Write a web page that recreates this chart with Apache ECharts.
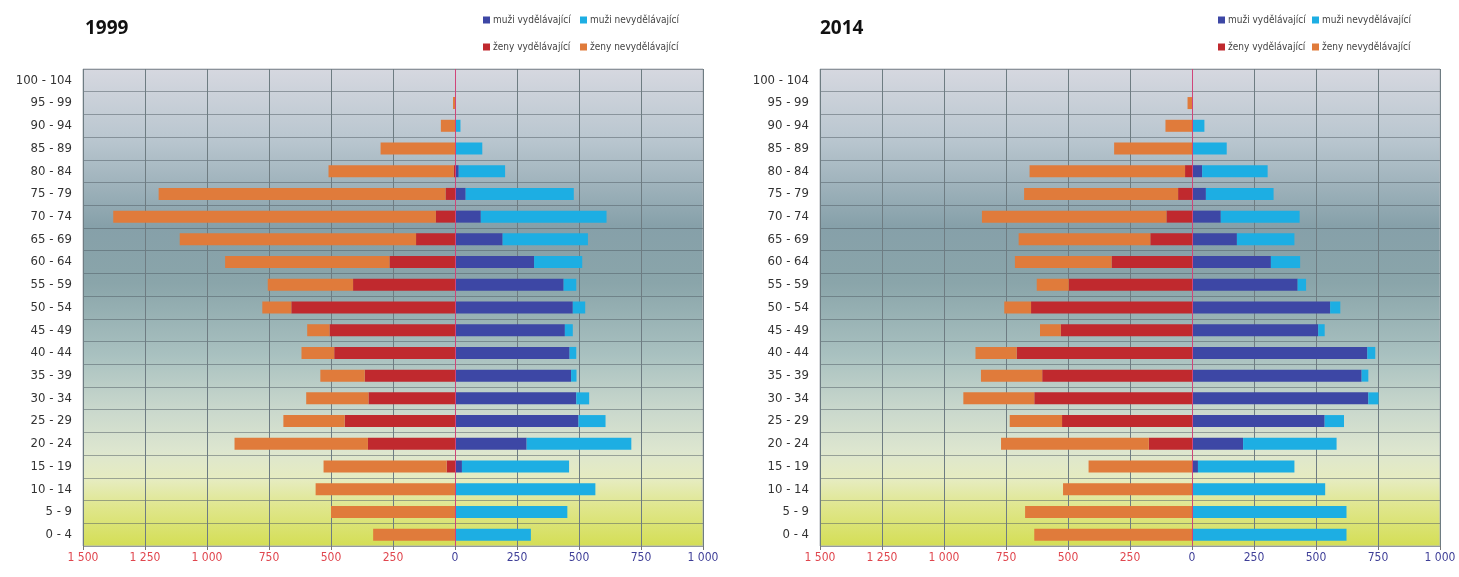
<!DOCTYPE html>
<html>
<head>
<meta charset="utf-8">
<script src="https://cdn.jsdelivr.net/npm/echarts@6/dist/echarts.min.js"></script>
<style>
  html, body { margin: 0; padding: 0; background: #fff; }
  #chart { width: 1459px; height: 577px; }
</style>
</head>
<body>
<div id="chart"></div>
<script>
// age groups, bottom to top
var ages = ['0 - 4', '5 - 9', '10 - 14', '15 - 19', '20 - 24', '25 - 29', '30 - 34', '35 - 39',
  '40 - 44', '45 - 49', '50 - 54', '55 - 59', '60 - 64', '65 - 69', '70 - 74', '75 - 79',
  '80 - 84', '85 - 89', '90 - 94', '95 - 99', '100 - 104'];

// 1999
var menEarn1999   = [0, 0, 0, 28, 289, 498, 489, 468, 462, 443, 475, 438, 319, 192, 104, 43, 15, 3, 2, 0, 0];
var menNon1999    = [306, 453, 566, 432, 422, 109, 52, 22, 27, 32, 50, 51, 194, 344, 507, 436, 187, 107, 20, 2, 0];
var womenEarn1999 = [0, 0, 0, 34, 351, 445, 349, 364, 487, 506, 660, 411, 264, 157, 77, 38, 5, 0, 0, 0, 0];
var womenNon1999  = [330, 500, 562, 496, 538, 247, 251, 179, 132, 90, 117, 344, 663, 953, 1301, 1157, 505, 300, 57, 8, 0];

// 2014
var menEarn2014   = [0, 0, 0, 24, 206, 535, 711, 684, 707, 509, 557, 426, 318, 181, 116, 56, 41, 0, 0, 0, 0];
var menNon2014    = [623, 623, 537, 389, 377, 78, 41, 27, 32, 26, 41, 34, 118, 232, 318, 273, 264, 140, 50, 3, 0];
var womenEarn2014 = [0, 0, 0, 0, 174, 524, 636, 604, 707, 529, 649, 497, 324, 168, 103, 56, 28, 0, 0, 0, 0];
var womenNon2014  = [636, 673, 520, 417, 596, 211, 286, 247, 166, 84, 108, 129, 390, 531, 744, 621, 627, 314, 107, 18, 0];

var names = ['muži vydělávající', 'muži nevydělávající', 'ženy vydělávající', 'ženy nevydělávající'];
var colors = ['#3d47a5', '#1daee3', '#c0292e', '#e07b3b'];

var font = '"DejaVu Sans Condensed", "Liberation Sans Narrow", sans-serif';

function neg(arr) { return arr.map(function (v) { return -v; }); }

function fmt(v) {
  var a = Math.abs(v);
  if (a >= 1000) {
    var s = String(a);
    return s.slice(0, s.length - 3) + ' ' + s.slice(s.length - 3);
  }
  return String(a);
}

var bg = {
  type: 'linear', x: 0, y: 0, x2: 0, y2: 1,
  colorStops: [
    { offset: 0, color: '#d6d8e0' },
    { offset: 0.15, color: '#b9c6cf' },
    { offset: 0.33, color: '#86a0a9' },
    { offset: 0.45, color: '#8aa5aa' },
    { offset: 0.6, color: '#a9c1c0' },
    { offset: 0.72, color: '#cbd9cd' },
    { offset: 0.8, color: '#dde6cf' },
    { offset: 0.86, color: '#e6ecc0' },
    { offset: 0.92, color: '#dfe68a' },
    { offset: 1, color: '#d4de55' }
  ]
};

var gridLefts = [83, 820];

function makeGrid(left) {
  return {
    left: left, top: 69, width: 620, height: 477,
    show: true, backgroundColor: bg, borderColor: '#b5b8bf', borderWidth: 1
  };
}

function makeX(i) {
  return {
    type: 'value', gridIndex: i, min: -1500, max: 1000, interval: 250,
    axisLine: { show: false },
    axisTick: { show: true, length: 4, lineStyle: { color: '#777' } },
    splitLine: { show: true, lineStyle: { color: '#6e7c82', width: 1 } },
    axisLabel: {
      margin: 6, fontSize: 12, fontFamily: font,
      formatter: fmt,
      color: function (v) { return Number(v) < 0 ? '#e0464e' : '#3f3f98'; }
    }
  };
}

function makeY(i) {
  return {
    type: 'category', gridIndex: i, data: ages,
    axisLine: { show: false },
    axisTick: { show: false },
    splitLine: { show: true, lineStyle: { color: 'rgba(80,92,100,0.5)', width: 1 } },
    axisLabel: { margin: 11, fontSize: 13, fontFamily: font, color: '#333' }
  };
}

function barSeries(name, data, idx, stack, color) {
  return {
    name: name, type: 'bar', xAxisIndex: idx, yAxisIndex: idx,
    stack: stack + idx, data: data, barWidth: 12, barGap: '-100%',
    itemStyle: { color: color }, silent: true
  };
}

function seriesFor(idx, me, mn, we, wn) {
  var s = [
    barSeries(names[0], me, idx, 'm', colors[0]),
    barSeries(names[1], mn, idx, 'm', colors[1]),
    barSeries(names[2], neg(we), idx, 'w', colors[2]),
    barSeries(names[3], neg(wn), idx, 'w', colors[3])
  ];
  s[0].markLine = {
    silent: true, symbol: 'none', label: { show: false },
    lineStyle: { color: '#d0457a', width: 1, type: 'solid' },
    data: [{ xAxis: 0 }]
  };
  return s;
}

// one legend entry each, so the two columns line up like the original
function legendItem(left, top, name) {
  return {
    left: left, top: top, padding: 0, orient: 'horizontal',
    itemWidth: 7, itemHeight: 7, icon: 'rect', itemGap: 0,
    data: [name],
    textStyle: { fontSize: 10, fontFamily: font, color: '#444', padding: [0, 0, 0, -2] }
  };
}

var legendCols = [[483, 580], [1218, 1312]];
var legendRows = [15, 42];
var legends = [];
legendCols.forEach(function (cols) {
  legends.push(legendItem(cols[0], legendRows[0], names[0]));
  legends.push(legendItem(cols[1], legendRows[0], names[1]));
  legends.push(legendItem(cols[0], legendRows[1], names[2]));
  legends.push(legendItem(cols[1], legendRows[1], names[3]));
});

var chart = echarts.init(document.getElementById('chart'));
chart.setOption({
  backgroundColor: '#fff',
  animation: false,
  title: [
    { text: '1999', left: 80, top: 14, textStyle: { fontSize: 19, fontWeight: 'bold', color: '#111', fontFamily: '"Open Sans", sans-serif' } },
    { text: '2014', left: 815, top: 14, textStyle: { fontSize: 19, fontWeight: 'bold', color: '#111', fontFamily: '"Open Sans", sans-serif' } }
  ],
  legend: legends,
  grid: gridLefts.map(makeGrid),
  xAxis: [makeX(0), makeX(1)],
  yAxis: [makeY(0), makeY(1)],
  series: seriesFor(0, menEarn1999, menNon1999, womenEarn1999, womenNon1999)
    .concat(seriesFor(1, menEarn2014, menNon2014, womenEarn2014, womenNon2014))
});
</script>
</body>
</html>
